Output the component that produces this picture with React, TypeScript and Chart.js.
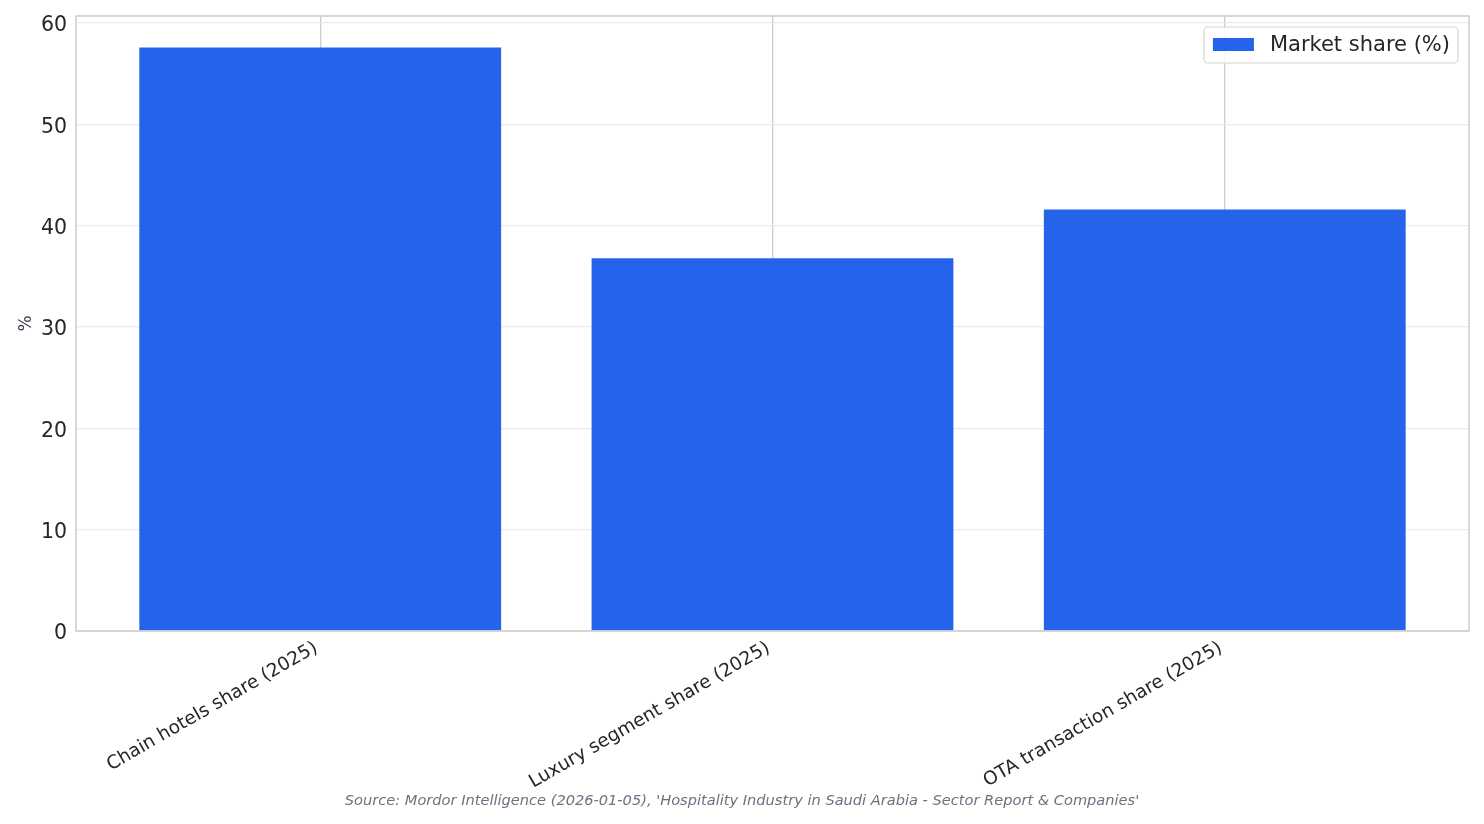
import { useEffect, useRef } from 'react';
import { Chart, registerables } from 'chart.js';

Chart.register(...registerables);

// data
const categories = ['Chain hotels share (2025)', 'Luxury segment share (2025)', 'OTA transaction share (2025)'];
const marketShare = [57.6, 36.8, 41.6];
const yTicks = [0, 10, 20, 30, 40, 50, 60];
const seriesLabel = 'Market share (%)';
const sourceNote = "Source: Mordor Intelligence (2026-01-05), 'Hospitality Industry in Saudi Arabia - Sector Report & Companies'";

const BAR = '#2563eb';
const FONT = "'DejaVu Sans', sans-serif";

// frame, in-axes legend and source line (matplotlib-like)
const framePlugin = {
  id: 'frame',
  afterDatasetsDraw(chart: Chart) {
    const { ctx, chartArea: a } = chart;
    ctx.save();
    ctx.strokeStyle = '#cccccc';
    ctx.lineWidth = 1.5;
    ctx.strokeRect(a.left, a.top, a.right - a.left, a.bottom - a.top);
    ctx.restore();
  },
  afterDraw(chart: Chart) {
    const { ctx, chartArea: a } = chart;
    ctx.save();
    // legend box
    ctx.font = `21px ${FONT}`;
    const tw = ctx.measureText(seriesLabel).width;
    const w = tw + 74;
    const h = 36;
    const x = a.right - 11 - w;
    const y = a.top + 11;
    ctx.fillStyle = 'rgba(255,255,255,0.85)';
    ctx.strokeStyle = '#d4d4d4';
    ctx.lineWidth = 1.2;
    ctx.beginPath();
    ctx.roundRect(x, y, w, h, 4);
    ctx.fill();
    ctx.stroke();
    ctx.fillStyle = BAR;
    ctx.fillRect(x + 9, y + 11, 41, 13);
    ctx.fillStyle = '#262626';
    ctx.textBaseline = 'middle';
    ctx.textAlign = 'left';
    ctx.fillText(seriesLabel, x + 66, y + h / 2 + 1);
    // source line
    ctx.font = `italic 14.6px ${FONT}`;
    ctx.fillStyle = '#6b7280';
    ctx.textAlign = 'center';
    ctx.fillText(sourceNote, chart.width / 2, 801);
    ctx.restore();
  }
};

function MarketShareChart() {
  const canvasRef = useRef<HTMLCanvasElement | null>(null);
  const chartRef = useRef<Chart | null>(null);

  useEffect(() => {
    if (!canvasRef.current) return;
    if (chartRef.current) chartRef.current.destroy();

    chartRef.current = new Chart(canvasRef.current, {
      type: 'bar',
      data: {
        datasets: [
          {
            label: seriesLabel,
            data: marketShare.map((v, i) => ({ x: i, y: v })),
            backgroundColor: BAR,
            borderWidth: 0,
            categoryPercentage: 1,
            barPercentage: 0.8
          }
        ]
      },
      options: {
        animation: false,
        responsive: true,
        maintainAspectRatio: false,
        layout: { padding: { top: 16, right: 15, left: 0, bottom: 0 } },
        scales: {
          x: {
            type: 'linear',
            offset: false,
            min: -0.54,
            max: categories.length - 1 + 0.54,
            afterBuildTicks: (s: any) => {
              s.ticks = categories.map((_, i) => ({ value: i }));
            },
            afterFit: (s: any) => {
              s.height = 193;
              s.paddingLeft = 0;
              s.paddingRight = 0;
            },
            ticks: {
              autoSkip: false,
              minRotation: 30,
              maxRotation: 30,
              padding: 6,
              labelOffset: -4,
              color: '#262626',
              font: { family: FONT, size: 18.5 },
              callback: (v: any) => categories[Number(v)] ?? ''
            },
            grid: { offset: false, color: '#cccccc', lineWidth: 1.3, drawTicks: false },
            border: { display: false }
          },
          y: {
            min: 0,
            max: 60.7,
            afterBuildTicks: (s: any) => {
              s.ticks = yTicks.map((v) => ({ value: v }));
            },
            afterFit: (s: any) => {
              s.width = 76;
              s.paddingTop = 0;
              s.paddingBottom = 0;
            },
            ticks: {
              padding: 9,
              labelOffset: 3,
              color: '#262626',
              font: { family: FONT, size: 20.5 }
            },
            grid: { color: '#ebebeb', lineWidth: 1.3, drawTicks: false },
            border: { display: false },
            title: {
              display: true,
              text: '%',
              color: '#374151',
              font: { family: FONT, size: 17 },
              padding: { top: 16, bottom: 4 }
            }
          }
        },
        plugins: {
          legend: { display: false },
          tooltip: { enabled: false }
        }
      },
      plugins: [framePlugin]
    });

    return () => {
      if (chartRef.current) {
        chartRef.current.destroy();
        chartRef.current = null;
      }
    };
  }, []);

  return (
    <div style={{ position: 'fixed', left: 0, top: 0, width: '1484px', height: '824px', background: '#fff' }}>
      <canvas ref={canvasRef} aria-label="Market share in Saudi Arabia hospitality" />
    </div>
  );
}

export default function App() {
  return <MarketShareChart />;
}
